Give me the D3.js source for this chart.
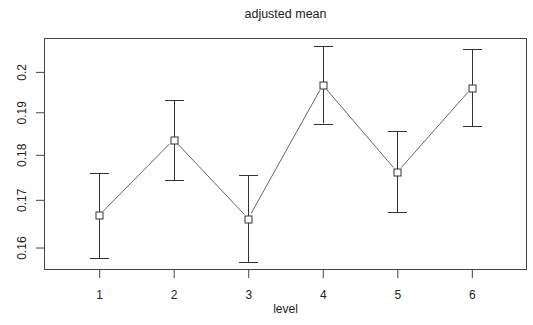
<!DOCTYPE html>
<html>
<head>
<meta charset="utf-8">
<script src="https://cdn.jsdelivr.net/npm/d3@7/dist/d3.min.js"></script>
<style>
  html, body { margin: 0; padding: 0; background: #fff; }
  svg { display: block; font-family: "Liberation Sans", Arial, sans-serif; }
</style>
</head>
<body>
<svg id="chart" width="533" height="325"></svg>
<script>
// Adjusted mean per level with confidence interval bounds
const levels = [1, 2, 3, 4, 5, 6];
const means  = [0.1667, 0.1835, 0.1660, 0.1967, 0.1761, 0.1960];
const lower  = [0.1579, 0.1743, 0.1571, 0.1873, 0.1673, 0.1867];
const upper  = [0.1758, 0.1929, 0.1754, 0.2066, 0.1855, 0.2058];
const yTicks = [0.16, 0.17, 0.18, 0.19, 0.2];
const yTickLabels = ["0.16", "0.17", "0.18", "0.19", "0.2"];

const svg = d3.select("#chart");
const box = { left: 44, right: 527, top: 38, bottom: 270 };

const x = d3.scaleLinear().domain([0.26, 6.74]).range([box.left, box.right]);
const y = d3.scaleLog().domain([0.1555, 0.2088]).range([box.bottom, box.top]);

const ink = "#222";

// Plot frame
svg.append("rect")
  .attr("x", box.left + 0.5).attr("y", box.top + 0.5)
  .attr("width", box.right - box.left - 1).attr("height", box.bottom - box.top - 1)
  .attr("fill", "none").attr("stroke", "#444").attr("stroke-width", 1);

// Axes
const xAxis = d3.axisBottom(x).tickValues(levels).tickSize(8).tickPadding(12).tickFormat(d3.format("d"));
const gx = svg.append("g").attr("transform", `translate(0,${box.bottom})`).call(xAxis);
gx.select(".domain").remove();
gx.selectAll(".tick line").attr("stroke", "#444");
gx.selectAll(".tick text").attr("fill", ink).attr("font-size", 12)
  .attr("font-family", "Liberation Sans, Arial, sans-serif");

const yAxis = d3.axisLeft(y).tickValues(yTicks).tickSize(8)
  .tickFormat((d, i) => yTickLabels[i]);
const gy = svg.append("g").attr("transform", `translate(${box.left},0)`).call(yAxis);
gy.select(".domain").remove();
gy.selectAll(".tick line").attr("stroke", "#444");
gy.selectAll(".tick text")
  .attr("fill", ink).attr("font-size", 12)
  .attr("font-family", "Liberation Sans, Arial, sans-serif")
  .attr("x", null).attr("dy", null)
  .attr("text-anchor", "middle")
  .attr("transform", "translate(-18,0) rotate(-90)");

// Titles
svg.append("text").attr("x", (box.left + box.right) / 2).attr("y", 18)
  .attr("text-anchor", "middle").attr("font-size", 12.5).attr("fill", ink)
  .text("adjusted mean");
svg.append("text").attr("x", (box.left + box.right) / 2).attr("y", 313)
  .attr("text-anchor", "middle").attr("font-size", 12).attr("fill", ink)
  .text("level");

// Connecting segments, stopping short of each marker
const gap = 6;
const segs = svg.append("g");
for (let i = 0; i < levels.length - 1; i++) {
  const x1 = x(levels[i]), y1 = y(means[i]);
  const x2 = x(levels[i + 1]), y2 = y(means[i + 1]);
  const len = Math.hypot(x2 - x1, y2 - y1);
  const ux = (x2 - x1) / len, uy = (y2 - y1) / len;
  segs.append("line")
    .attr("x1", x1 + ux * gap).attr("y1", y1 + uy * gap)
    .attr("x2", x2 - ux * gap).attr("y2", y2 - uy * gap)
    .attr("stroke", "#555").attr("stroke-width", 0.9);
}

// Error bars with caps
const cap = 9.5;
const bars = svg.append("g").attr("stroke", "#333").attr("stroke-width", 1);
levels.forEach((lv, i) => {
  const cx = Math.round(x(lv)) + 0.5;
  bars.append("line").attr("x1", cx).attr("x2", cx)
    .attr("y1", y(upper[i])).attr("y2", y(lower[i]));
  bars.append("line").attr("x1", cx - cap).attr("x2", cx + cap)
    .attr("y1", Math.round(y(upper[i])) + 0.5).attr("y2", Math.round(y(upper[i])) + 0.5);
  bars.append("line").attr("x1", cx - cap).attr("x2", cx + cap)
    .attr("y1", Math.round(y(lower[i])) + 0.5).attr("y2", Math.round(y(lower[i])) + 0.5);
});

// Square markers
svg.append("g").selectAll("rect").data(levels).join("rect")
  .attr("x", d => Math.round(x(d)) + 0.5 - 3.5)
  .attr("y", (d, i) => Math.round(y(means[i])) + 0.5 - 3.5)
  .attr("width", 7).attr("height", 7)
  .attr("fill", "#fff").attr("stroke", "#333").attr("stroke-width", 1);
</script>
</body>
</html>
